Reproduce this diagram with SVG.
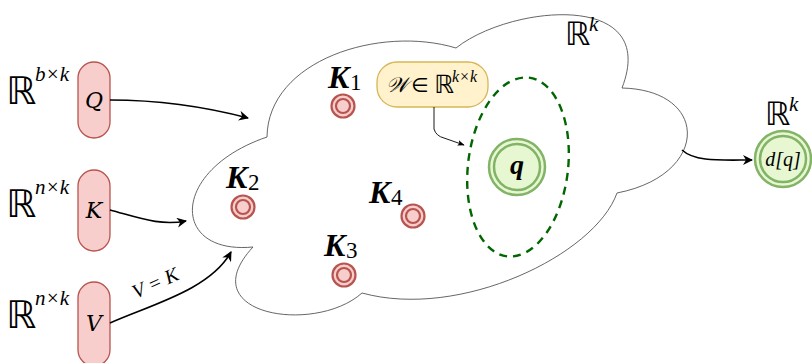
<svg xmlns="http://www.w3.org/2000/svg" width="812" height="363" viewBox="0 0 812 363">
<defs>
<marker id="arr" viewBox="0 0 10 10" refX="9" refY="5" markerWidth="10" markerHeight="10" markerUnits="userSpaceOnUse" orient="auto">
<path d="M0,0 L10,5 L0,10 L3,5 Z" fill="#000"/>
</marker>
<marker id="arrs" viewBox="0 0 10 10" refX="9" refY="5" markerWidth="7" markerHeight="7" markerUnits="userSpaceOnUse" orient="auto">
<path d="M0,1 L10,5 L0,9 L2,5 Z" fill="#000"/>
</marker>
</defs>
<style>
.pill{fill:#f8cecc;stroke:#b85450;stroke-width:1.3}
.kr{fill:#f8cecc;stroke:#b85450;stroke-width:2.2}
.gr{fill:#e6f7d2;stroke:#82b366;stroke-width:2.5}
.bb{font-family:"DejaVu Sans",sans-serif;fill:#000}
.it{font-family:"Liberation Serif","DejaVu Serif",serif;font-style:italic;fill:#000}
.mi{font-family:"DejaVu Serif",serif;font-style:italic;fill:#000;font-size:22px}
.kb{font-family:"Liberation Serif","DejaVu Serif",serif;font-style:italic;font-weight:bold;fill:#000;font-size:32px}
.sub{font-family:"Liberation Serif","DejaVu Serif",serif;fill:#000;font-size:23px}
.conn{fill:none;stroke:#000;stroke-width:1.6}
</style>
<g id="cloud">
<path d="M267,137 C268,60 380,25 456,48 C510,5 660,-10 622,88 C710,90 710,175 617,193 C595,255 460,320 362,293 C315,335 190,315 253,247 C170,255 170,170 267,137 Z" fill="#fff" stroke="#555" stroke-width="0.9"/>
<text class="bb" x="565" y="45" font-size="32">ℝ</text>
<text class="it" x="589" y="31" font-size="21">k</text>
</g>
<g id="node-Q">
<rect class="pill" x="78" y="62" width="32" height="76" rx="16"/>
<text class="mi" x="94" y="108" text-anchor="middle">Q</text>
<text class="bb" x="6" y="104" font-size="38">ℝ</text>
<text class="it" x="35" y="81" font-size="21">b×k</text>
</g>
<g id="node-K">
<rect class="pill" x="78" y="170" width="32" height="81" rx="16"/>
<text class="mi" x="94" y="218" text-anchor="middle">K</text>
<text class="bb" x="6" y="217" font-size="38">ℝ</text>
<text class="it" x="35" y="194" font-size="21">n×k</text>
</g>
<g id="node-V">
<rect class="pill" x="78" y="282" width="32" height="84" rx="16"/>
<text class="mi" x="94" y="331" text-anchor="middle">V</text>
<text class="bb" x="6" y="328" font-size="38">ℝ</text>
<text class="it" x="35" y="305" font-size="21">n×k</text>
</g>
<g id="node-K1">
<circle class="kr" cx="343" cy="106" r="11.5"/>
<circle class="kr" cx="343" cy="106" r="7"/>
<text class="kb" x="328" y="88">K</text><text class="sub" x="350" y="90">1</text>
</g>
<g id="node-K2">
<circle class="kr" cx="243" cy="207" r="11.5"/>
<circle class="kr" cx="243" cy="207" r="7"/>
<text class="kb" x="226" y="188">K</text><text class="sub" x="248" y="190">2</text>
</g>
<g id="node-K3">
<circle class="kr" cx="344" cy="275" r="11.5"/>
<circle class="kr" cx="344" cy="275" r="7"/>
<text class="kb" x="324" y="256">K</text><text class="sub" x="346" y="258">3</text>
</g>
<g id="node-K4">
<circle class="kr" cx="413" cy="216" r="11.5"/>
<circle class="kr" cx="413" cy="216" r="7"/>
<text class="kb" x="369" y="203">K</text><text class="sub" x="391" y="205">4</text>
</g>
<g id="node-W">
<rect x="377" y="62" width="111" height="45" rx="20" fill="#fff2cc" stroke="#d6b656" stroke-width="1.3"/>
<text x="386" y="92" font-size="21" class="it">𝒲</text>
<text x="411" y="92" font-size="20" class="bb">∈</text>
<text x="434" y="93" font-size="25" class="bb">ℝ</text>
<text x="452" y="82" font-size="16" class="it">k×k</text>
</g>
<g id="region-q">
<ellipse cx="518" cy="167" rx="50" ry="90" transform="rotate(7 518 167)" fill="none" stroke="#006600" stroke-width="2.4" stroke-dasharray="8,6"/>
</g>
<g id="node-q">
<circle class="gr" cx="517" cy="167" r="28"/>
<circle class="gr" cx="517" cy="167" r="23"/>
<text class="it" x="517" y="174" font-size="28" font-weight="bold" text-anchor="middle">q</text>
</g>
<g id="node-dq">
<circle class="gr" cx="783" cy="159" r="28"/>
<circle class="gr" cx="783" cy="159" r="23"/>
<text class="it" x="783" y="166" font-size="20" text-anchor="middle">d[q]</text>
<text class="bb" x="765" y="125" font-size="32">ℝ</text>
<text class="it" x="789" y="111" font-size="21">k</text>
</g>
<g id="connectors">
<path class="conn" d="M110,100 C160,100 210,108 248,118" marker-end="url(#arr)"/>
<path class="conn" d="M110,210 C140,218 160,226 186,221" marker-end="url(#arr)"/>
<path class="conn" d="M110,323 C150,305 210,290 231,252" marker-end="url(#arr)"/>
<path fill="none" stroke="#000" stroke-width="0.9" d="M434,107 L434,129 Q436,136 444,138 L464,145" marker-end="url(#arrs)"/>
<path class="conn" d="M682,150 C695,162 720,160 752,160" marker-end="url(#arr)"/>
<text class="it" font-size="20" transform="translate(158,289) rotate(-24)" text-anchor="middle">V = K</text>
</g>
</svg>
